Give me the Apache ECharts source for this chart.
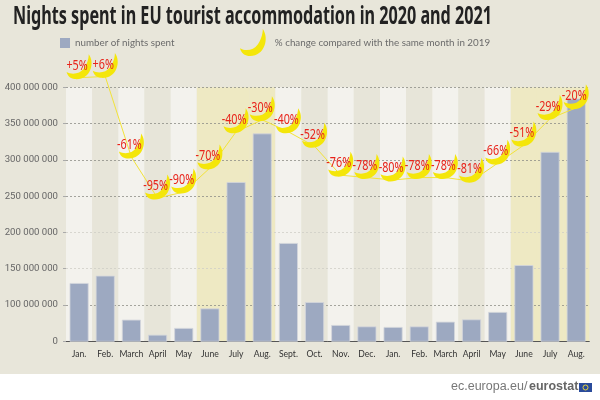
<!DOCTYPE html>
<html>
<head>
<meta charset="utf-8">
<style>html,body{margin:0;padding:0;background:#fff}#main{width:600px;height:400px}</style>
<script src="https://cdn.jsdelivr.net/npm/echarts@6/dist/echarts.min.js"></script>
</head>
<body>
<div id="main"></div>
<script>
var months=['Jan.','Feb.','March','April','May','June','July','Aug.','Sept.','Oct.','Nov.','Dec.','Jan.','Feb.','March','April','May','June','July','Aug.'];
var nights=[130300000,140400000,79800000,59000000,68300000,95300000,269400000,336400000,185400000,104000000,72400000,70500000,69700000,70500000,77000000,80200000,90400000,155000000,311000000,384500000];
var change=[5,6,-61,-95,-90,-70,-40,-30,-40,-52,-76,-78,-80,-78,-78,-81,-66,-51,-29,-20];
var summerMonths=[5,6,7,17,18,19];
// the source axis has no 50 000 000 step, its lowest tick is labelled 0
var tickLabels=['0','100 000 000','150 000 000','200 000 000','250 000 000','300 000 000','350 000 000','400 000 000'];

var moon='path://M80 2C104 36 84 100 30 94C16 92 6 84 2 68C22 80 50 74 62 56C72 42 80 22 80 2Z';
var nameBars='number of nights spent';
var nameLine='% change compared with the same month in 2019';
var titleText='Nights spent in EU tourist accommodation in 2020 and 2021';
var lato='Lato,"Noto Sans",sans-serif';
var roboto='Roboto,"Noto Sans",sans-serif';
var noto='"Noto Sans",sans-serif';
var arial='"Liberation Sans",sans-serif';

var bandData=[];
for(var i=0;i<months.length;i++){
	var color=i%2==0?'#f3f2ed':'#e7e5d9';
	if(summerMonths.indexOf(i)>=0){
		color='#eee9c3';
	}
	bandData.push({value:400000000,itemStyle:{color:color}});
}

function percentLabel(v){
	return (v>0?'+':'')+v+'%';
}

// red labels squeezed like the condensed face of the original
function renderChangeLabel(params,api){
	var pt=api.coord([api.value(0),api.value(1)]);
	return {
		type:'text',
		x:pt[0]-2,
		y:pt[1]-12,
		scaleX:0.72,
		style:{
			text:percentLabel(api.value(1)),
			fontFamily:noto,
			fontSize:15,
			fill:'#e8231a',
			align:'center',
			verticalAlign:'middle'
		}
	};
}

var changePairs=[];
for(var i=0;i<change.length;i++){
	changePairs.push([i,change[i]]);
}

var myChart=echarts.init(document.getElementById('main'));
var option={
	animation:false,
	legend:[
		{
			data:[{name:nameBars,icon:'rect',itemStyle:{borderWidth:0}}],
			left:60,top:38,padding:0,itemWidth:10,itemHeight:10,
			textStyle:{fontFamily:lato,fontSize:9.8,color:'#6b6b6b'}
		},
		{
			data:[{name:nameLine,icon:moon}],
			left:240,top:29,padding:0,itemWidth:28,itemHeight:27,
			textStyle:{fontFamily:lato,fontSize:9.8,color:'#6b6b6b',padding:[0,0,0,3]}
		}
	],
	grid:{left:66,right:10.7,top:87.3,bottom:58.7,outerBoundsMode:'none'},
	xAxis:[
		{
			type:'category',
			data:months,
			axisTick:{show:false},
			axisLine:{lineStyle:{color:'#555',width:1}},
			axisLabel:{interval:0,fontFamily:lato,fontSize:8.6,color:'#333',margin:8}
		},
		{type:'category',data:months,show:false}
	],
	yAxis:[
		{
			type:'value',
			min:50000000,
			max:400000000,
			interval:50000000,
			axisLine:{show:false},
			axisTick:{show:true,length:3,lineStyle:{color:'#aaa'}},
			axisLabel:{
				fontFamily:roboto,fontSize:9.6,color:'#666',margin:8,
				formatter:function(v){return tickLabels[(v-50000000)/50000000];}
			},
			splitLine:{lineStyle:{
				type:[2,2],
				width:0.8,
				color:['#8f8f88','#8f8f88','#cfcec6','#cfcec6','#8f8f88','#8f8f88','#8f8f88','#8f8f88']
			}}
		},
		{type:'value',show:false,min:-214,max:-3,splitLine:{show:false}}
	],
	series:[
		{
			type:'bar',
			xAxisIndex:1,
			yAxisIndex:0,
			barWidth:'100%',
			z:-1,
			silent:true,
			legendHoverLink:false,
			data:bandData
		},
		{
			name:nameBars,
			type:'bar',
			barWidth:19,
			itemStyle:{color:'#9da9c1',borderColor:'#d3d6dc',borderWidth:0.8},
			data:nights
		},
		{
			name:nameLine,
			type:'line',
			yAxisIndex:1,
			clip:false,
			symbol:moon,
			symbolSize:[25,25],
			symbolOffset:[0,-11],
			z:5,
			lineStyle:{color:'#f2e33a',width:1},
			itemStyle:{color:'#f4e60a'},
			data:change
		},
		{
			type:'custom',
			yAxisIndex:1,
			clip:false,
			z:6,
			silent:true,
			renderItem:renderChangeLabel,
			data:changePairs
		}
	],
	graphic:[
		{type:'rect',z:-10,silent:true,shape:{x:0,y:0,width:600,height:374},style:{fill:'#e8e6da'}},
		{type:'text',x:13,y:17,scaleX:0.647,style:{text:titleText,fontFamily:noto,fontWeight:'bold',fontSize:25,fill:'#222',verticalAlign:'middle'}},
		{type:'text',x:451,y:387,style:{text:'ec.europa.eu/',fontFamily:arial,fontSize:12.5,fill:'#777',verticalAlign:'middle'}},
		{type:'text',x:529,y:387,style:{text:'eurostat',fontFamily:arial,fontWeight:'bold',fontSize:12.5,fill:'#666',verticalAlign:'middle'}},
		{type:'rect',shape:{x:579,y:383,width:13,height:9},style:{fill:'#2a4b9b'}},
		{type:'circle',shape:{cx:585.5,cy:387.5,r:2.5},style:{fill:'none',stroke:'#e8d53a',lineWidth:1}}
	]
};
myChart.setOption(option);
</script>
</body>
</html>
